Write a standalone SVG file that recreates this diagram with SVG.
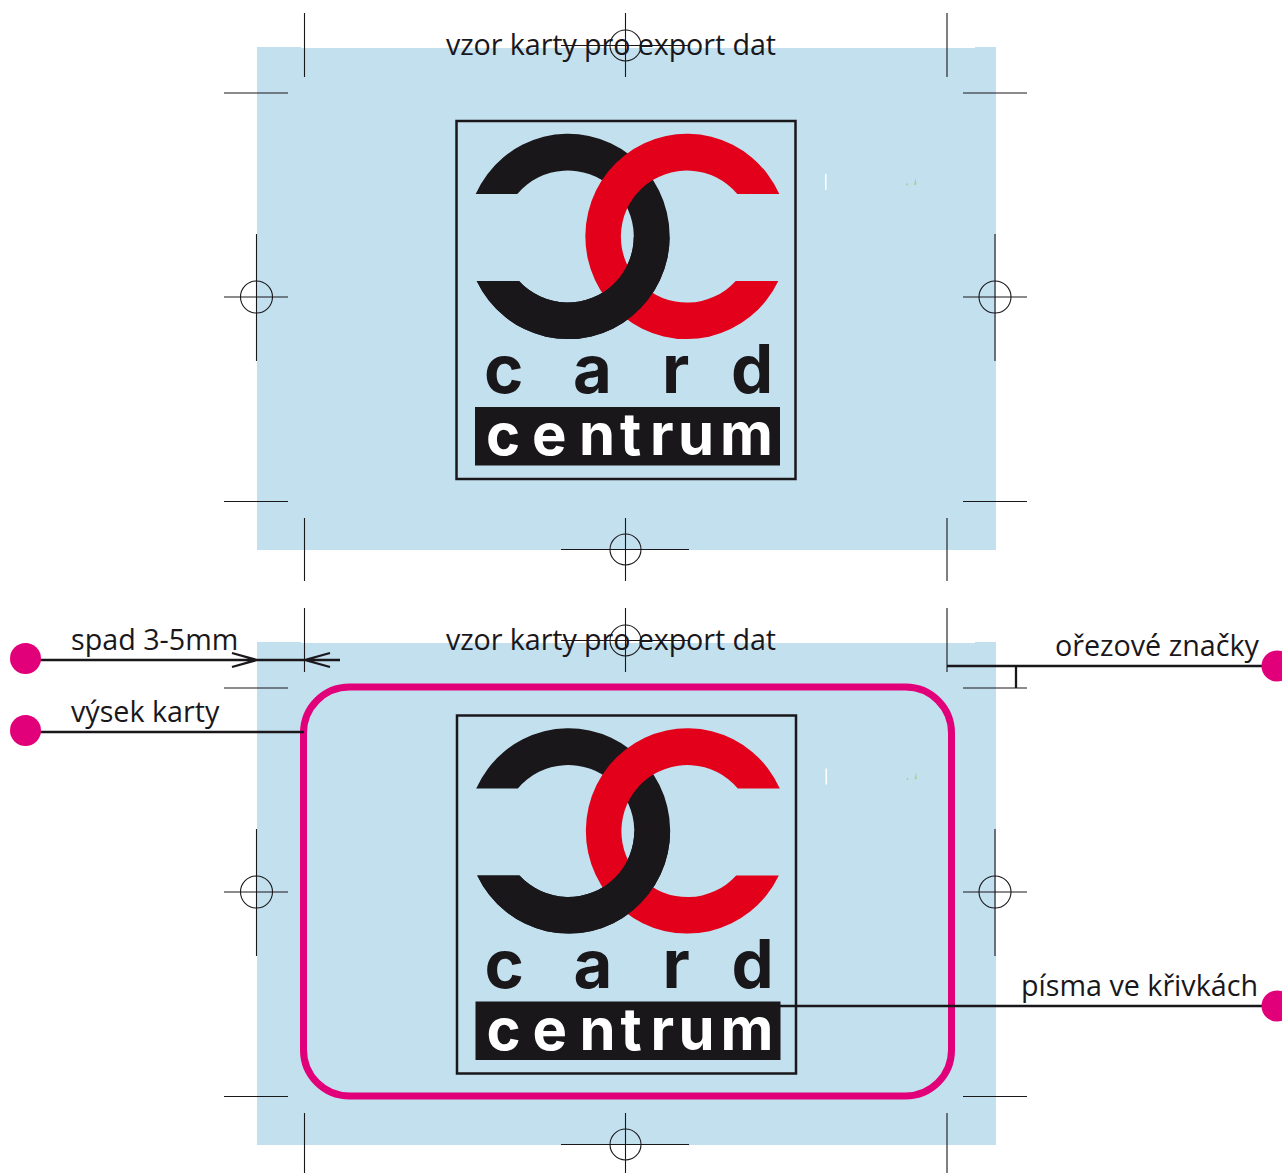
<svg xmlns="http://www.w3.org/2000/svg" xmlns:xlink="http://www.w3.org/1999/xlink" width="1282" height="1173" viewBox="0 0 1282 1173">
<style>
.panel{fill:#c3e0ee}
.crop{stroke:#1a171b;stroke-width:1.100;fill:none}
.k{fill:#1a171b}
.r{fill:#e2001a}
.card{font-family:"Inter","Liberation Sans",Arial,sans-serif;font-weight:700;font-size:67px;fill:#1a171b}
.cent{font-family:"Inter","Liberation Sans",Arial,sans-serif;font-weight:700;font-size:58px;fill:#fff}
.lbl{font-family:"Open Sans","Noto Sans",sans-serif;font-size:28.700px;fill:#1a171b}
.lead{stroke:#1a171b;stroke-width:2.300;fill:none}
.dot{fill:#e2007a}
</style>
<defs>
<clipPath id="low"><rect x="440" y="237" width="360" height="120"/></clipPath>
<path id="cb" d="M475.7 194A101.500 102.700 0 1 1 476.7 281H519A66 66 0 1 0 517.3 194Z"/>
<path id="cr" d="M779.3 194A101.500 102.700 0 1 0 778.3 281H735.7A66 66 0 1 1 737.3 194Z"/>
<g id="logo">
<rect x="456.500" y="121" width="339" height="358" fill="none" stroke="#1a171b" stroke-width="2.500"/>
<use xlink:href="#cb" class="k"/>
<use xlink:href="#cr" class="r"/>
<use xlink:href="#cb" class="k" clip-path="url(#low)"/>
<text class="card" x="484 573 662 731" y="393">card</text>
<rect x="475" y="407" width="305" height="58.500" class="k"/>
<text class="cent" x="486 532 579 620 650 678 720" y="455">centrum</text>
<rect x="825" y="174" width="1.500" height="16" fill="#fff"/>
<path d="M906 184l1.500-1 .5 1.500-1 1.500zM914 185l1.500-7 1 6.500z" fill="#a9cf9a"/>
</g>
<g id="marks" class="crop">
<path d="M304.500 13V77M947 13V77M625.500 13V77M561 45.500H689M224 93H288M963 93H1027"/>
<path d="M224 501.500H288M963 501.500H1027M304.500 518V581M947 518V581M625.500 518V581M561 549.500H689"/>
<path d="M256.500 234V361M224 297H288M995 234V361M963 297H1027"/>
<circle cx="625.500" cy="45.500" r="15.500"/>
<circle cx="625.500" cy="549.500" r="15.500"/>
<circle cx="256.500" cy="297" r="16"/>
<circle cx="995" cy="297" r="16"/>
</g>
</defs>
<g id="card-top">
<path class="panel" d="M257 47H301V48H975V47H996V550H257Z"/>
<use xlink:href="#logo"/>
<use xlink:href="#marks"/>
<text class="lbl" x="446" y="55" textLength="330">vzor karty pro export dat</text>
</g>
<g id="card-bottom">
<path class="panel" d="M257 642H301V643H975V642H996V1145H257Z"/>
<use xlink:href="#logo" transform="translate(.5 594.500)"/>
<use xlink:href="#marks" transform="translate(0 595)"/>
<rect x="303.500" y="687" width="648" height="409" rx="46" fill="none" stroke="#e2007a" stroke-width="7"/>
<text class="lbl" x="446" y="650" textLength="330">vzor karty pro export dat</text>
</g>
<g id="connectors">
<path class="lead" d="M40 660H340M232 653L257 660L232 667M330 653L305 660L330 667"/>
<path class="lead" d="M40 732H304"/>
<path class="lead" d="M947 666H1262M1016 666V688"/>
<path class="lead" d="M779 1006H1262"/>
</g>
<g id="label-spad"><circle class="dot" cx="25.500" cy="658.500" r="15.500"/><text class="lbl" x="71" y="650">spad 3-5mm</text></g>
<g id="label-vysek"><circle class="dot" cx="25.500" cy="730.500" r="15.500"/><text class="lbl" x="71" y="722">výsek karty</text></g>
<g id="label-orez"><circle class="dot" cx="1277" cy="666" r="15.500"/><text class="lbl" x="1055" y="656">ořezové značky</text></g>
<g id="label-pisma"><circle class="dot" cx="1277" cy="1006" r="15.500"/><text class="lbl" x="1021" y="996">písma ve křivkách</text></g>
</svg>
